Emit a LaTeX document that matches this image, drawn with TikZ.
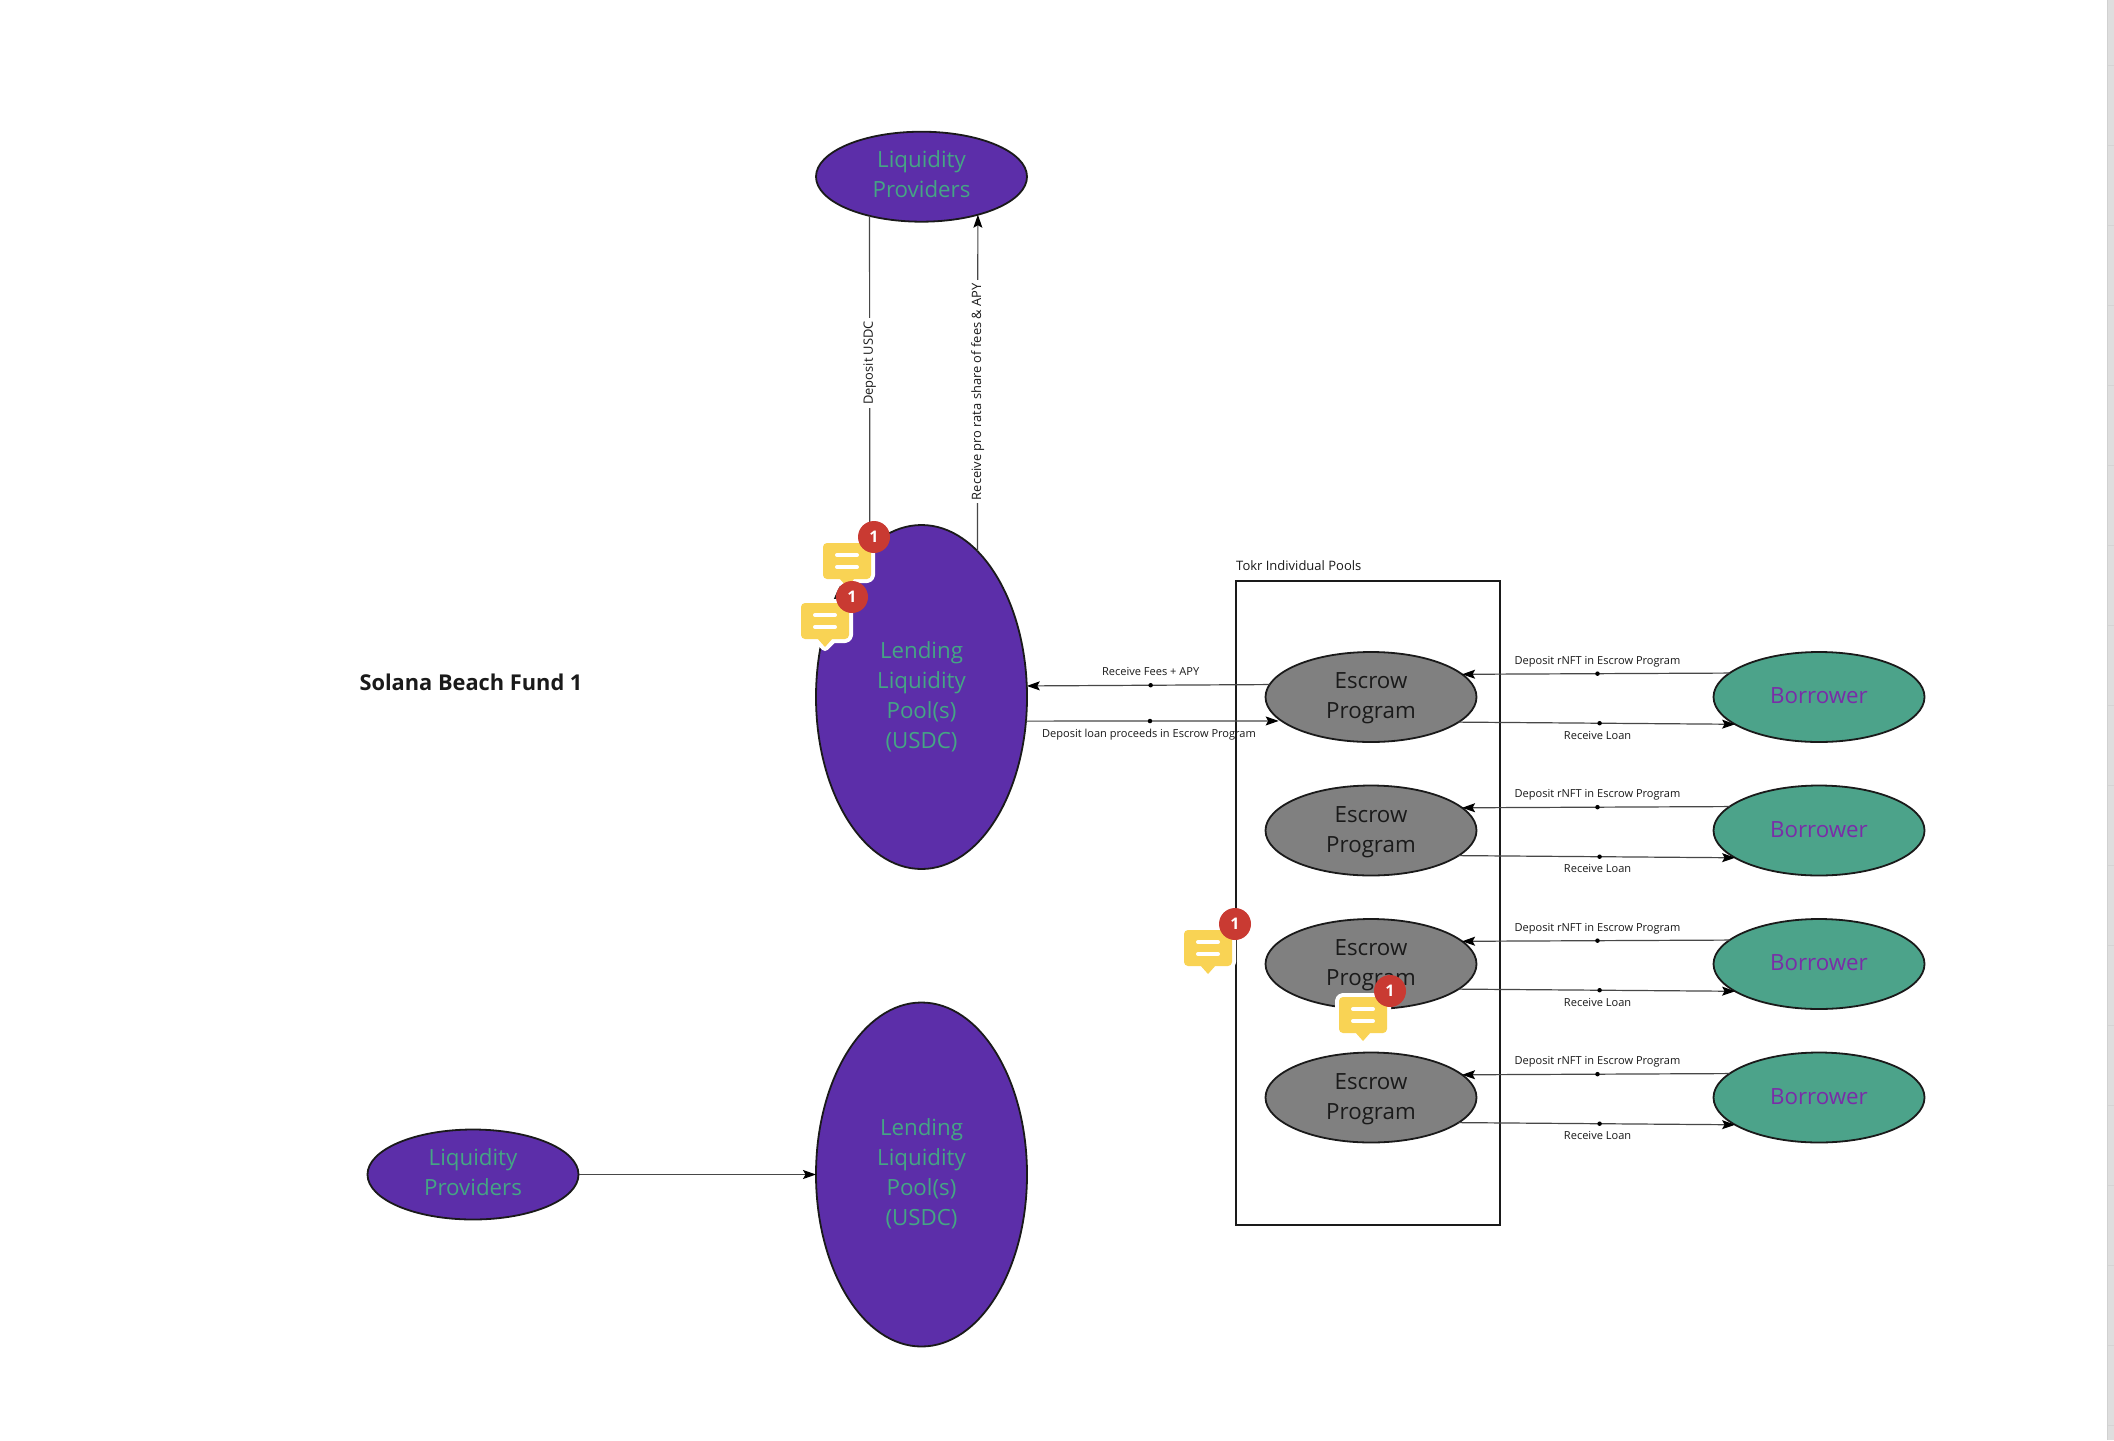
\documentclass[tikz,border=0pt]{standalone}
\usepackage{fontspec}
\setmainfont{Open Sans}
\usetikzlibrary{arrows.meta,shapes.geometric}
\definecolor{lpurple}{HTML}{5C2EA9}
\definecolor{lgreen}{HTML}{4CA38A}
\definecolor{tgreen}{HTML}{45A584}
\definecolor{tpurple}{HTML}{7A2CA8}
\definecolor{lgray}{HTML}{808080}
\definecolor{ink}{HTML}{1A1A1A}
\definecolor{byellow}{HTML}{F9D354}
\definecolor{bred}{HTML}{C93A32}
\tikzset{
  oval/.style={ellipse,draw=ink,line width=1.8pt,inner sep=0pt,outer sep=0pt,minimum width=211pt,minimum height=90pt},
  ovaltext/.style={inner sep=0pt,align=center,font=\fontsize{22.3}{30}\selectfont},
  poolnode/.style={oval,fill=lpurple},
  pooltext/.style={ovaltext,text=tgreen},
  tallpool/.style={poolnode,minimum height=344pt},
  escrownode/.style={oval,fill=lgray},
  borrowernode/.style={oval,fill=lgreen},
  link/.style={line width=1.2pt,draw=black!72},
  arrowlink/.style={link,-{Stealth[length=13pt,width=9pt,inset=2.5pt,color=black]}},
  tinylabel/.style={font=\fontsize{11.05}{14}\selectfont,text=ink,inner sep=1pt},
  vlabel/.style={tinylabel,font=\fontsize{12.9}{14}\selectfont,rotate=90,fill=white,inner sep=3pt},
  middot/.style={circle,fill=black,inner sep=0pt,minimum size=4.5pt},
  pics/bubble/.style={code={
    \path[fill=white,draw=white,line width=8pt,line join=round,rounded corners=4pt] (-24,-18) rectangle (24,18);
    \path[fill=white,draw=white,line width=8pt,line join=round] (-8,18) -- (0,26) -- (8,18) -- cycle;
    \fill[byellow,rounded corners=4pt] (-24,-18) rectangle (24,18);
    \fill[byellow] (-8,17) -- (0,26) -- (8,17) -- cycle;
    \draw[white,line width=4pt,line cap=round] (-10,-6) -- (10,-6) (-10,6) -- (10,6);
    \node[circle,fill=bred,minimum size=32pt,inner sep=0pt,text=white,font=\fontsize{16}{16}\bfseries\selectfont] (-badge) at (27,-24) {1};
  }},
}
\begin{document}
\begin{tikzpicture}[x=1pt,y=-1pt]
\useasboundingbox (0,0) rectangle (2114,1440);
\fill[white] (0,0) rectangle (2114,1440);
% scroll strip
\fill[black!13] (2107,0) rectangle (2114,1440);
\draw[black!18,line width=1pt] (2107.5,0) -- (2107.5,1440);
\foreach \t in {65,145,...,1425} \draw[black!17,line width=1pt] (2108,\t) -- (2114,\t);

% title and box
\node[font=\fontsize{21.8}{26}\bfseries\selectfont,text=ink,inner sep=0pt] (title) at (471,682) {Solana Beach Fund 1};
\node[draw=ink,line width=1.8pt,minimum width=264pt,minimum height=644pt,inner sep=0pt,outer sep=0pt] (poolbox) at (1368.2,903) {};
\node[font=\fontsize{13}{16}\selectfont,text=ink,inner sep=0pt,anchor=west] (boxlabel) at (1236,566) {Tokr Individual Pools};

% pools
\node[poolnode] (lptop) at (921.5,176.7) {};
\node[pooltext] (lptoptext) at ([yshift=2.6pt]lptop.center) {Liquidity\\Providers};
\node[tallpool] (lend1) at (921.5,697) {};
\node[pooltext] (lend1text) at (lend1.center) {Lending\\Liquidity\\Pool(s)\\(USDC)};
\node[tallpool] (lend2) at (921.5,1174.5) {};
\node[pooltext] (lend2text) at ([yshift=.7pt]lend2.center) {Lending\\Liquidity\\Pool(s)\\(USDC)};
\node[poolnode] (lpleft) at (473,1174.5) {};
\node[pooltext] (lplefttext) at ([yshift=2.4pt]lpleft.center) {Liquidity\\Providers};

% left chain
\draw[arrowlink] (lpleft.east) -- (lend2.west);
\draw[arrowlink] (lptop.217.3) -- node[vlabel,pos=.444] (usdc) {Deposit USDC} (lend1.109);
\draw[arrowlink] (lend1.69.4) -- node[vlabel,pos=.474] (prorata) {Receive pro rata share of fees \& APY} (lptop.-34.8);

% rows
\foreach \i/\y in {1/697,2/830.5,3/964,4/1097.5}{
  \node[escrownode] (esc\i) at (1371,\y) {};
  \node[ovaltext,text=ink] (esc\i text) at ([yshift=-1.3pt]esc\i.center) {Escrow\\Program};
  \node[borrowernode] (bor\i) at (1819,\y) {};
  \node[ovaltext,text=tpurple] (bor\i text) at ([yshift=1pt]bor\i.center) {Borrower};
  \draw[arrowlink] (bor\i.165.5) -- node[middot,pos=.494] (dotA\i) {} (esc\i.14.6);
  \draw[arrowlink] (esc\i.-16.3) -- node[middot,pos=.51] (dotB\i) {} (bor\i.198.2);
  \node[tinylabel] (rnft\i) at ([yshift=12.4pt]dotA\i) {Deposit rNFT in Escrow Program};
  \node[tinylabel] (loan\i) at ([yshift=-12pt,xshift=-2pt]dotB\i) {Receive Loan};
}

% pool <-> escrow
\draw[arrowlink] (esc1.173) -- node[middot,pos=.49] (dotF) {} (lend1.6.7);
\draw[arrowlink,shorten >=3pt] (lend1.-13.7) -- node[middot,pos=.485] (dotD) {} (esc1.195.5);
\node[tinylabel] (feeslabel) at ([yshift=13.5pt]dotF) {Receive Fees + APY};
\node[tinylabel] (loanproc) at ([yshift=-13.5pt,xshift=-1pt]dotD) {Deposit loan proceeds in Escrow Program};

% comment bubbles
\pic (b1) at (847,561) {bubble};
\pic (b2) at (825,621) {bubble};
\pic (b3) at (1208,948) {bubble};
\pic (b4) at (1363,1015) {bubble};
\end{tikzpicture}
\end{document}
